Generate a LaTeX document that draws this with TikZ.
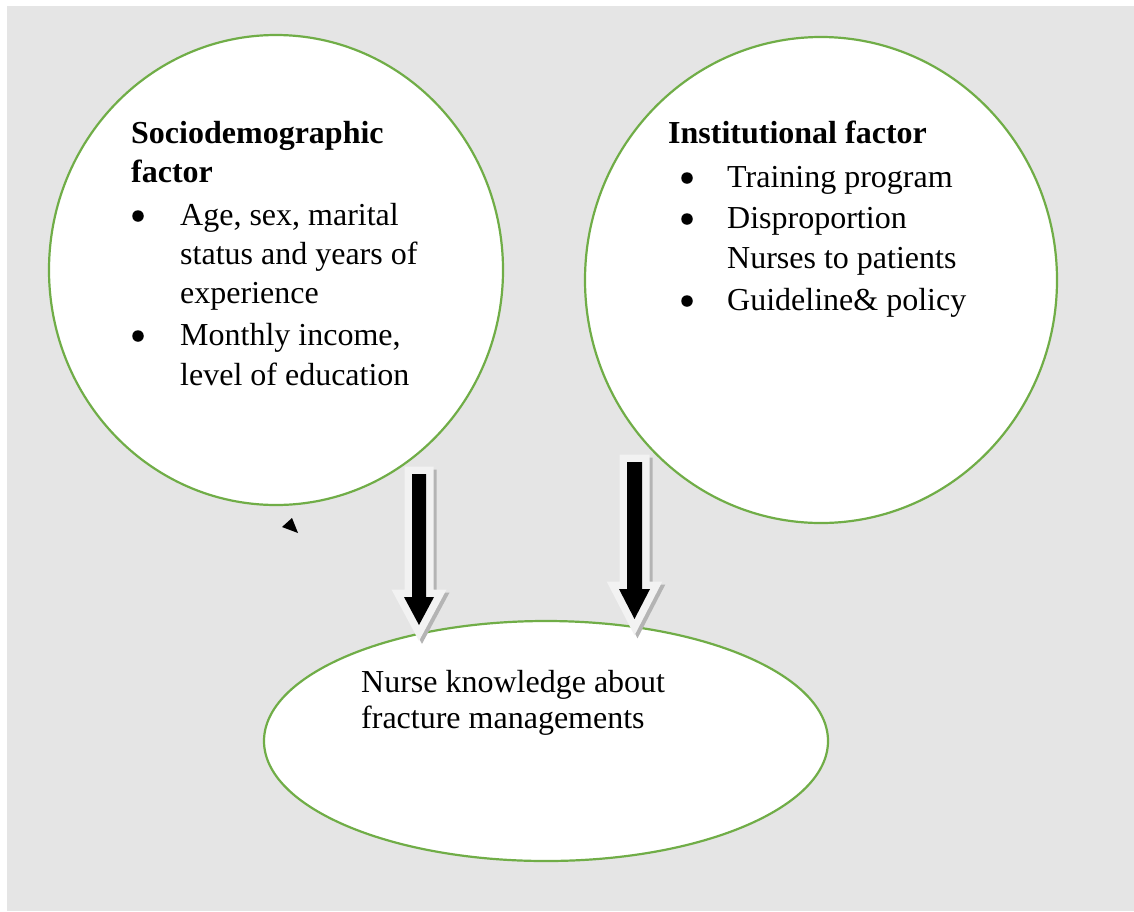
\documentclass[tikz,border=0pt]{standalone}
\usepackage{fontspec}
\setmainfont{Liberation Serif}
\definecolor{panelgrey}{RGB}{229,229,229}
\definecolor{rimgreen}{RGB}{112,173,71}
\definecolor{glowgrey}{RGB}{242,242,242}
\definecolor{shadegrey}{RGB}{180,180,180}
\begin{document}
\begin{tikzpicture}[x=1pt,y=-1pt,
  bubble/.style={draw=rimgreen, line width=2.2pt, fill=white},
  txt/.style={anchor=base west, inner sep=0pt, font=\fontsize{32}{38}\selectfont},
  head/.style={txt, font=\fontsize{32}{38}\selectfont\bfseries},
  dot/.style={circle, fill=black, inner sep=0pt, minimum size=11.5pt},
  arrowglow/.style={draw=glowgrey, line width=15pt, miter limit=10, line join=miter},
  arrowshade/.style={draw=shadegrey, line width=15pt, miter limit=10, line join=miter},
]
% page and grey panel
\useasboundingbox (0,0) rectangle (1134,911);
\fill[white] (0,0) rectangle (1134,911);
\fill[panelgrey] (7,6) rectangle (1134,911);

% factor bubbles and outcome ellipse
\draw[bubble] (276,270) ellipse [x radius=227, y radius=235];
\node[inner sep=0pt] (socio) at (276,270) {};
\draw[bubble] (821,280) ellipse [x radius=236, y radius=243];
\node[inner sep=0pt] (inst) at (821,280) {};
\draw[bubble] (546,741) ellipse [x radius=282, y radius=120];
\node[inner sep=0pt] (know) at (546,741) {};

% block arrows: shadow, light rim, black body
% left arrow
\begin{scope}[shift={(3,3)}]
  \draw[arrowshade] (412,474) -- (426,474) -- (426,597) -- (434,597) -- (419,625) -- (404,597) -- (412,597) -- cycle;
\end{scope}
\draw[arrowglow] (412,474) -- (426,474) -- (426,597) -- (434,597) -- (419,625) -- (404,597) -- (412,597) -- cycle;
\fill[black] (412,474) -- (426,474) -- (426,597) -- (434,597) -- (419,625) -- (404,597) -- (412,597) -- cycle;
\coordinate (a1) at (419,625);
% right arrow
\begin{scope}[shift={(3,3)}]
  \draw[arrowshade] (627,462) -- (642,462) -- (642,589) -- (650,589) -- (634.5,619) -- (619,589) -- (627,589) -- cycle;
\end{scope}
\draw[arrowglow] (627,462) -- (642,462) -- (642,589) -- (650,589) -- (634.5,619) -- (619,589) -- (627,589) -- cycle;
\fill[black] (627,462) -- (642,462) -- (642,589) -- (650,589) -- (634.5,619) -- (619,589) -- (627,589) -- cycle;
\coordinate (a2) at (634.5,619);

% small stray arrowhead
\fill[black] (282,527) -- (292,518) -- (298,533) -- cycle;

% left bubble text
\node[head] (s1) at (131,143) {Sociodemographic};
\node[head] (s2) at (131,182) {factor};
\node[dot] (b1) at (138,216) {};
\node[txt] (s3) at (180,225) {Age, sex, marital};
\node[txt] (s4) at (180,264) {status and years of};
\node[txt] (s5) at (180,303) {experience};
\node[dot] (b2) at (138,336) {};
\node[txt] (s6) at (180,345) {Monthly income,};
\node[txt] (s7) at (180,385) {level of education};

% right bubble text
\node[head] (i1) at (668,143) {Institutional factor};
\node[dot] (b3) at (687,178) {};
\node[txt] (i2) at (727,187) {Training program};
\node[dot] (b4) at (687,219) {};
\node[txt] (i3) at (727,228) {Disproportion};
\node[txt] (i4) at (727,268) {Nurses to patients};
\node[dot] (b5) at (687,301) {};
\node[txt] (i5) at (727,310) {Guideline\& policy};

% outcome text
\node[txt] (k1) at (361,692) {Nurse knowledge about};
\node[txt] (k2) at (361,728) {fracture managements};
\end{tikzpicture}
\end{document}
